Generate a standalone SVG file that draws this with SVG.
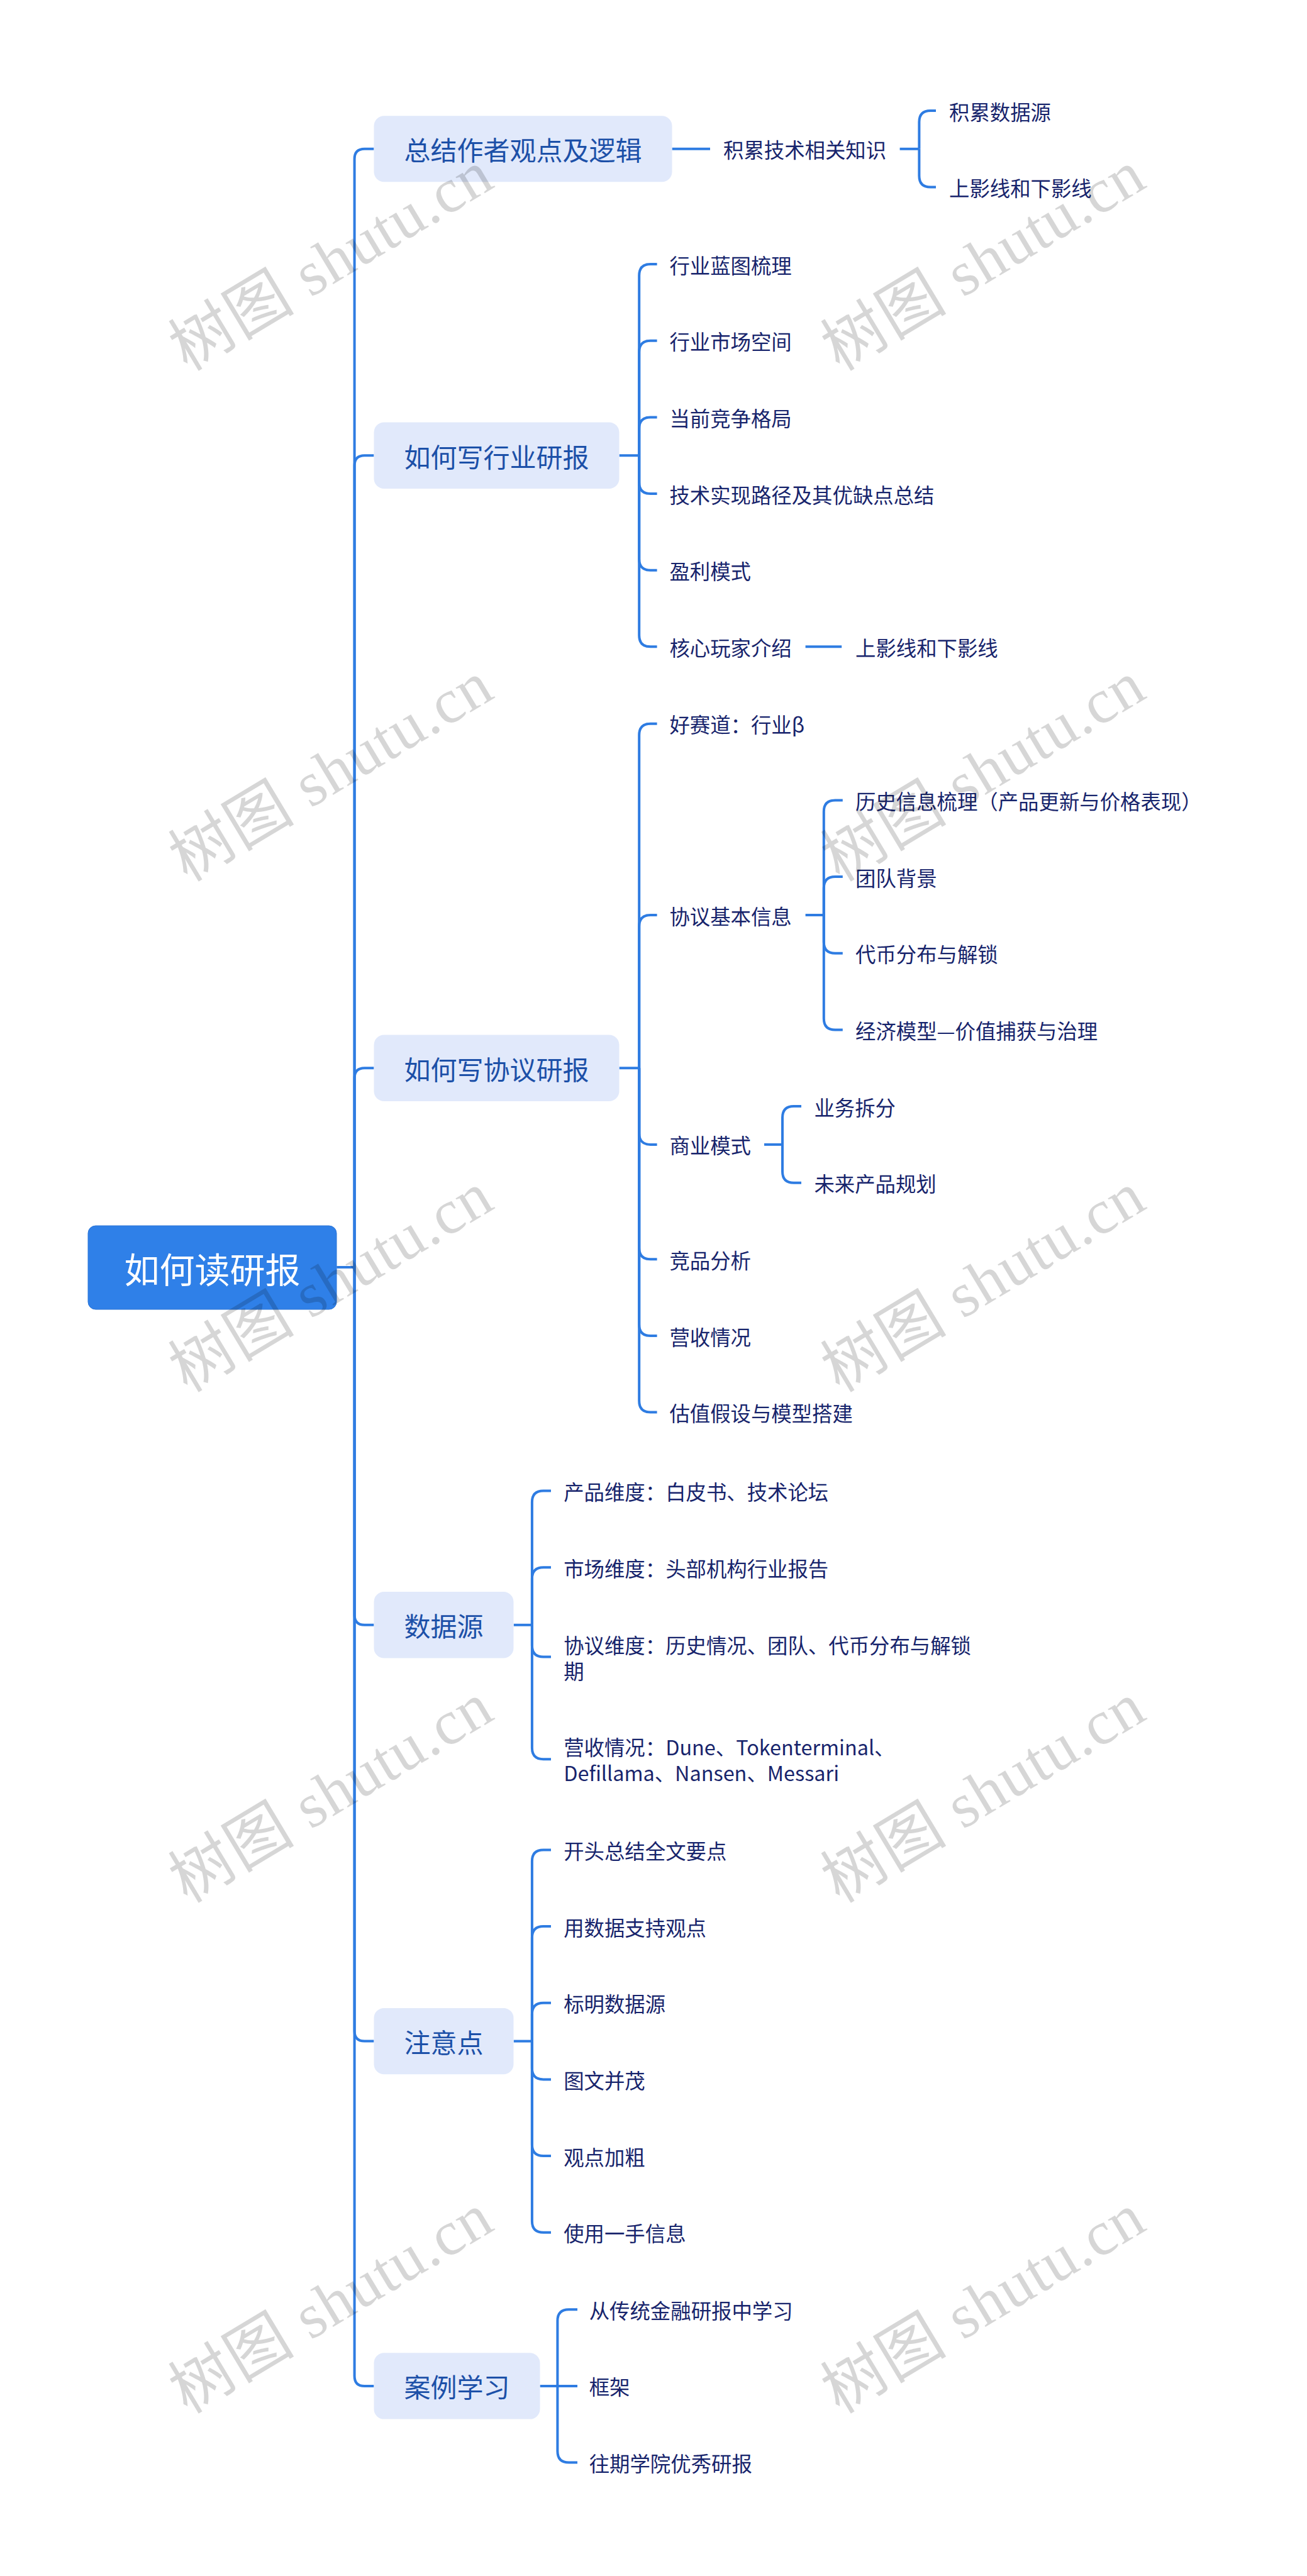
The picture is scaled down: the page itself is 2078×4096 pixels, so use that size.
<svg xmlns="http://www.w3.org/2000/svg" width="2078" height="4096" viewBox="0 0 2078 4096">
<style>
.bg{fill:#ffffff}
.c{fill:none;stroke:#2e7ce2;stroke-width:4;stroke-linecap:butt;stroke-linejoin:round}
.root rect{fill:#2f80e8;stroke:#2a74d6;stroke-width:1}
.root text{font-family:"Noto Sans CJK SC","Liberation Sans",sans-serif;font-size:56px;fill:#ffffff;text-anchor:middle;dominant-baseline:central}
.l1 rect{fill:#e1e9fb}
.l1 text{font-family:"Noto Sans CJK SC","Liberation Sans",sans-serif;font-size:42px;fill:#1c50a8;text-anchor:middle;dominant-baseline:central}
.l2 text{font-family:"Noto Sans CJK SC","Liberation Sans",sans-serif;font-size:32.4px;fill:#17246c;dominant-baseline:central}
.wm{font-family:"Liberation Serif","Noto Sans CJK SC",serif;font-size:100px;fill:#000000;fill-opacity:0.16;text-anchor:middle;dominant-baseline:central}
</style>
<rect class="bg" x="0" y="0" width="2078" height="4096"/>

<g id="connectors">
<path class="c" d="M535.3 2015 H563.6"/>
<path class="c" d="M563.6 2015 V252.8 Q563.6 236.8 579.6 236.8 H594.5"/>
<path class="c" d="M563.6 2015 V740.2 Q563.6 724.2 579.6 724.2 H594.5"/>
<path class="c" d="M563.6 2015 V1714.2 Q563.6 1698.2 579.6 1698.2 H594.5"/>
<path class="c" d="M563.6 2015 V2567.8 Q563.6 2583.8 579.6 2583.8 H594.5"/>
<path class="c" d="M563.6 2015 V3229.6 Q563.6 3245.6 579.6 3245.6 H594.5"/>
<path class="c" d="M563.6 2015 V3777.9 Q563.6 3793.9 579.6 3793.9 H594.5"/>

<path class="c" d="M1068.5 236.8 H1129"/>
<path class="c" d="M1430.6 236.8 H1461.4"/>
<path class="c" d="M1461.4 236.8 V194 Q1461.4 176 1479.4 176 H1488"/>
<path class="c" d="M1461.4 236.8 V279.6 Q1461.4 297.6 1479.4 297.6 H1488"/>

<path class="c" d="M984.5 724.2 H1016.2"/>
<path class="c" d="M1016.2 724.2 V438.1 Q1016.2 420.1 1034.2 420.1 H1044.6"/>
<path class="c" d="M1016.2 724.2 V559.8 Q1016.2 541.8 1034.2 541.8 H1044.6"/>
<path class="c" d="M1016.2 724.2 V681.4 Q1016.2 663.4 1034.2 663.4 H1044.6"/>
<path class="c" d="M1016.2 724.2 V767 Q1016.2 785 1034.2 785 H1044.6"/>
<path class="c" d="M1016.2 724.2 V888.7 Q1016.2 906.7 1034.2 906.7 H1044.6"/>
<path class="c" d="M1016.2 724.2 V1010.3 Q1016.2 1028.3 1034.2 1028.3 H1044.6"/>
<path class="c" d="M1280.6 1028.3 H1338.2"/>

<path class="c" d="M984.5 1698.2 H1016.2"/>
<path class="c" d="M1016.2 1698.2 V1168.8 Q1016.2 1150.8 1034.2 1150.8 H1044.6"/>
<path class="c" d="M1016.2 1698.2 V1473 Q1016.2 1455 1034.2 1455 H1044.6"/>
<path class="c" d="M1016.2 1698.2 V1801.9 Q1016.2 1819.9 1034.2 1819.9 H1044.6"/>
<path class="c" d="M1016.2 1698.2 V1984.3 Q1016.2 2002.3 1034.2 2002.3 H1044.6"/>
<path class="c" d="M1016.2 1698.2 V2106 Q1016.2 2124 1034.2 2124 H1044.6"/>
<path class="c" d="M1016.2 1698.2 V2227.6 Q1016.2 2245.6 1034.2 2245.6 H1044.6"/>
<path class="c" d="M1280.6 1455 H1309.8"/>
<path class="c" d="M1309.8 1455 V1290.5 Q1309.8 1272.5 1327.8 1272.5 H1339.8"/>
<path class="c" d="M1309.8 1455 V1412.1 Q1309.8 1394.1 1327.8 1394.1 H1339.8"/>
<path class="c" d="M1309.8 1455 V1497.8 Q1309.8 1515.8 1327.8 1515.8 H1339.8"/>
<path class="c" d="M1309.8 1455 V1619.4 Q1309.8 1637.4 1327.8 1637.4 H1339.8"/>
<path class="c" d="M1215 1819.9 H1244"/>
<path class="c" d="M1244 1819.9 V1777 Q1244 1759 1262 1759 H1274"/>
<path class="c" d="M1244 1819.9 V1862.7 Q1244 1880.7 1262 1880.7 H1274"/>

<path class="c" d="M816.7 2583.8 H845.9"/>
<path class="c" d="M845.9 2583.8 V2388.6 Q845.9 2370.6 863.9 2370.6 H876"/>
<path class="c" d="M845.9 2583.8 V2510.2 Q845.9 2492.2 863.9 2492.2 H876"/>
<path class="c" d="M845.9 2583.8 V2616.5 Q845.9 2634.5 863.9 2634.5 H876"/>
<path class="c" d="M845.9 2583.8 V2779.2 Q845.9 2797.2 863.9 2797.2 H876"/>

<path class="c" d="M816.7 3245.6 H845.9"/>
<path class="c" d="M845.9 3245.6 V2959.5 Q845.9 2941.5 863.9 2941.5 H876"/>
<path class="c" d="M845.9 3245.6 V3081.1 Q845.9 3063.1 863.9 3063.1 H876"/>
<path class="c" d="M845.9 3245.6 V3202.8 Q845.9 3184.8 863.9 3184.8 H876"/>
<path class="c" d="M845.9 3245.6 V3288.4 Q845.9 3306.4 863.9 3306.4 H876"/>
<path class="c" d="M845.9 3245.6 V3410.1 Q845.9 3428.1 863.9 3428.1 H876"/>
<path class="c" d="M845.9 3245.6 V3531.7 Q845.9 3549.7 863.9 3549.7 H876"/>

<path class="c" d="M858.5 3793.9 H918"/>
<path class="c" d="M886.4 3793.9 V3690.3 Q886.4 3672.3 904.4 3672.3 H918"/>
<path class="c" d="M886.4 3793.9 V3897.6 Q886.4 3915.6 904.4 3915.6 H918"/>
</g>

<g id="root" class="root">
<rect x="140" y="1949" width="395" height="133" rx="12"/>
<text x="337.5" y="2015">如何读研报</text>
</g>

<g id="n1" class="l1"><rect x="594.5" y="184.3" width="474" height="105" rx="16"/><text x="831.5" y="236.8">总结作者观点及逻辑</text></g>
<g id="n2" class="l1"><rect x="594.5" y="671.5" width="390" height="105.4" rx="16"/><text x="789.5" y="724.2">如何写行业研报</text></g>
<g id="n3" class="l1"><rect x="594.5" y="1645.5" width="390" height="105.4" rx="16"/><text x="789.5" y="1698.2">如何写协议研报</text></g>
<g id="n4" class="l1"><rect x="594.5" y="2531.1" width="222" height="105.4" rx="16"/><text x="705.5" y="2583.8">数据源</text></g>
<g id="n5" class="l1"><rect x="594.5" y="3192.9" width="222" height="105.4" rx="16"/><text x="705.5" y="3245.6">注意点</text></g>
<g id="n6" class="l1"><rect x="594.5" y="3741.2" width="264" height="105.4" rx="16"/><text x="726.5" y="3793.9">案例学习</text></g>

<g id="n1-1" class="l2"><text x="1150" y="236.8">积累技术相关知识</text></g>
<g id="n1-1-1" class="l2"><text x="1509" y="176">积累数据源</text></g>
<g id="n1-1-2" class="l2"><text x="1509" y="297.6">上影线和下影线</text></g>

<g id="n2-1" class="l2"><text x="1064.4" y="420.1">行业蓝图梳理</text></g>
<g id="n2-2" class="l2"><text x="1064.4" y="541.8">行业市场空间</text></g>
<g id="n2-3" class="l2"><text x="1064.4" y="663.4">当前竞争格局</text></g>
<g id="n2-4" class="l2"><text x="1064.4" y="785">技术实现路径及其优缺点总结</text></g>
<g id="n2-5" class="l2"><text x="1064.4" y="906.7">盈利模式</text></g>
<g id="n2-6" class="l2"><text x="1064.4" y="1028.3">核心玩家介绍</text></g>
<g id="n2-6-1" class="l2"><text x="1360" y="1028.3">上影线和下影线</text></g>

<g id="n3-1" class="l2"><text x="1064.4" y="1150.8">好赛道：行业β</text></g>
<g id="n3-2" class="l2"><text x="1064.4" y="1455">协议基本信息</text></g>
<g id="n3-2-1" class="l2"><text x="1360" y="1272.5">历史信息梳理（产品更新与价格表现）</text></g>
<g id="n3-2-2" class="l2"><text x="1360" y="1394.1">团队背景</text></g>
<g id="n3-2-3" class="l2"><text x="1360" y="1515.8">代币分布与解锁</text></g>
<g id="n3-2-4" class="l2"><text x="1360" y="1637.4">经济模型—价值捕获与治理</text></g>
<g id="n3-3" class="l2"><text x="1064.4" y="1819.9">商业模式</text></g>
<g id="n3-3-1" class="l2"><text x="1294.4" y="1759">业务拆分</text></g>
<g id="n3-3-2" class="l2"><text x="1294.4" y="1880.7">未来产品规划</text></g>
<g id="n3-4" class="l2"><text x="1064.4" y="2002.3">竞品分析</text></g>
<g id="n3-5" class="l2"><text x="1064.4" y="2124">营收情况</text></g>
<g id="n3-6" class="l2"><text x="1064.4" y="2245.6">估值假设与模型搭建</text></g>

<g id="n4-1" class="l2"><text x="896.2" y="2370.6">产品维度：白皮书、技术论坛</text></g>
<g id="n4-2" class="l2"><text x="896.2" y="2492.2">市场维度：头部机构行业报告</text></g>
<g id="n4-3" class="l2"><text x="896.2" y="2614.2">协议维度：历史情况、团队、代币分布与解锁</text><text x="896.2" y="2655.4">期</text></g>
<g id="n4-4" class="l2"><text x="896.2" y="2776.8">营收情况：Dune、Tokenterminal、</text><text x="896.2" y="2817.8">Defillama、Nansen、Messari</text></g>

<g id="n5-1" class="l2"><text x="896.2" y="2941.5">开头总结全文要点</text></g>
<g id="n5-2" class="l2"><text x="896.2" y="3063.1">用数据支持观点</text></g>
<g id="n5-3" class="l2"><text x="896.2" y="3184.8">标明数据源</text></g>
<g id="n5-4" class="l2"><text x="896.2" y="3306.4">图文并茂</text></g>
<g id="n5-5" class="l2"><text x="896.2" y="3428.1">观点加粗</text></g>
<g id="n5-6" class="l2"><text x="896.2" y="3549.7">使用一手信息</text></g>

<g id="n6-1" class="l2"><text x="936.7" y="3672.3">从传统金融研报中学习</text></g>
<g id="n6-2" class="l2"><text x="936.7" y="3793.9">框架</text></g>
<g id="n6-3" class="l2"><text x="936.7" y="3915.6">往期学院优秀研报</text></g>

<g id="watermarks">
<text class="wm" transform="translate(526 415) rotate(-31)" textLength="573">树图 shutu.cn</text>
<text class="wm" transform="translate(1563 415) rotate(-31)" textLength="573">树图 shutu.cn</text>
<text class="wm" transform="translate(526 1227) rotate(-31)" textLength="573">树图 shutu.cn</text>
<text class="wm" transform="translate(1563 1227) rotate(-31)" textLength="573">树图 shutu.cn</text>
<text class="wm" transform="translate(526 2039) rotate(-31)" textLength="573">树图 shutu.cn</text>
<text class="wm" transform="translate(1563 2039) rotate(-31)" textLength="573">树图 shutu.cn</text>
<text class="wm" transform="translate(526 2851) rotate(-31)" textLength="573">树图 shutu.cn</text>
<text class="wm" transform="translate(1563 2851) rotate(-31)" textLength="573">树图 shutu.cn</text>
<text class="wm" transform="translate(526 3663) rotate(-31)" textLength="573">树图 shutu.cn</text>
<text class="wm" transform="translate(1563 3663) rotate(-31)" textLength="573">树图 shutu.cn</text>
</g>
</svg>
